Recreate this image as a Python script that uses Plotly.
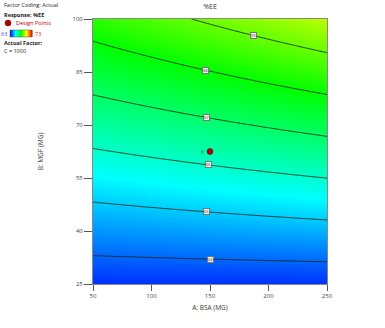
import numpy as np
import plotly.graph_objects as go

# Factor ranges and ticks
bsa_range = [50, 250]
mgf_range = [25, 100]
bsa_ticks = [50, 100, 150, 200, 250]
mgf_ticks = [25, 40, 55, 70, 85, 100]

# Response surface model for %EE in coded-centre form:
# z = c0 + cA*(A-A0) + cB*(B-B0) + cAB*(A-A0)*(B-B0)
centre = [150.0, 62.5]
coef_const = [66.29]
coef_linear = [0.00347, 0.0752]
coef_inter = [9.29e-5]

# Contour levels and the BSA position where each label sits
levels = [64, 65, 66, 67, 68, 69]
label_bsa = [150, 147, 149, 147, 146, 187]

# Design point (centre point, 6 replicates)
design_bsa = [150]
design_mgf = [62.5]
design_reps = ["6"]

z_lo, z_hi = 63, 73
cscale = [[0, "rgb(0,0,255)"], [0.25, "rgb(0,255,255)"], [0.5, "rgb(0,255,0)"],
          [0.75, "rgb(255,255,0)"], [1, "rgb(255,0,0)"]]


def model(a, b):
    da, db = a - centre[0], b - centre[1]
    return coef_const[0] + coef_linear[0] * da + coef_linear[1] * db + coef_inter[0] * da * db


A = np.linspace(bsa_range[0], bsa_range[1], 101)
B = np.linspace(mgf_range[0], mgf_range[1], 101)
AA, BB = np.meshgrid(A, B)
Z = model(AA, BB)

fig = go.Figure()
fig.add_trace(go.Heatmap(x=A, y=B, z=Z, zmin=z_lo, zmax=z_hi, colorscale=cscale,
                         zsmooth="best", showscale=False, hoverinfo="skip"))
fig.add_trace(go.Contour(x=A, y=B, z=Z, showscale=False, hoverinfo="skip",
                         contours=dict(coloring="none", start=levels[0], end=levels[-1], size=1),
                         line=dict(color="rgba(20,40,20,0.85)", width=1)))

fig.add_trace(go.Scatter(x=design_bsa, y=design_mgf, mode="markers",
                         marker=dict(color="#b00000", size=6, line=dict(color="#600000", width=0.5)),
                         hoverinfo="skip", showlegend=False))

annotations = []
for lev, a in zip(levels, label_bsa):
    da = a - centre[0]
    # solve model(a, b) = lev for b
    slope = coef_linear[1] + coef_inter[0] * da
    b = centre[1] + (lev - coef_const[0] - coef_linear[0] * da) / slope
    annotations.append(dict(x=a, y=b, text=str(lev), showarrow=False,
                            font=dict(size=4, color="#333"), bgcolor="#f4f4f4",
                            bordercolor="#777", borderwidth=1, borderpad=0))

for a, b, t in zip(design_bsa, design_mgf, design_reps):
    annotations.append(dict(x=a, y=b, text=t, showarrow=False, xshift=-8,
                            font=dict(size=5, color="#1a6a5a")))

font = "Open Sans, Noto Sans, sans-serif"
# Left-hand legend block (paper coords: x measured relative to plot area)
W, H, L, T = 234.0, 265.0, 93.0, 19.0


def px(x):
    return (x - L) / W


def py(y):
    return 1 - (y - T) / H


legend_text = [
    (2, 5, "Factor Coding: Actual", "#222", False),
    (2, 15, "Response: %EE", "#222", True),
    (14, 23, "Design Points", "#c00000", False),
    (2, 43, "Actual Factor:", "#222", True),
    (2, 51, "C = 1000", "#222", False),
]
for x, y, t, c, bold in legend_text:
    annotations.append(dict(x=px(x), y=py(y), xref="paper", yref="paper", text=f"<b>{t}</b>" if bold else t,
                            showarrow=False, xanchor="left", yanchor="middle",
                            font=dict(size=5.5, color=c, family=font)))
annotations.append(dict(x=px(9), y=py(33.5), xref="paper", yref="paper", text=str(z_lo), showarrow=False,
                        xanchor="right", yanchor="middle", font=dict(size=5.5, color="#3040ff", family=font)))
annotations.append(dict(x=px(33), y=py(33.5), xref="paper", yref="paper", text=str(z_hi), showarrow=False,
                        xanchor="left", yanchor="middle", font=dict(size=5.5, color="#e02020", family=font)))

shapes = []
# design-point marker in legend
shapes.append(dict(type="circle", xref="paper", yref="paper", x0=px(5), x1=px(11), y0=py(26), y1=py(20),
                   fillcolor="#b00000", line=dict(color="#600000", width=0.5)))
# gradient swatch
n = 22
x0, x1 = 10, 32
for i in range(n):
    frac = (i + 0.5) / n
    col = None
    for (p0, c0), (p1, c1) in zip(cscale[:-1], cscale[1:]):
        if p0 <= frac <= p1:
            t = (frac - p0) / (p1 - p0)
            v0 = [int(s) for s in c0[4:-1].split(",")]
            v1 = [int(s) for s in c1[4:-1].split(",")]
            col = "rgb(%d,%d,%d)" % tuple(round(u + (w - u) * t) for u, w in zip(v0, v1))
            break
    xa = x0 + (x1 - x0) * i / n
    xb = x0 + (x1 - x0) * (i + 1) / n
    shapes.append(dict(type="rect", xref="paper", yref="paper", x0=px(xa), x1=px(xb) + 0.002,
                       y0=py(37), y1=py(30), fillcolor=col, line=dict(width=0)))
shapes.append(dict(type="rect", xref="paper", yref="paper", x0=px(x0), x1=px(x1), y0=py(37), y1=py(30),
                   line=dict(color="#555", width=0.5)))

fig.update_layout(
    width=385, height=328,
    margin=dict(l=93, r=58, t=19, b=44),
    paper_bgcolor="white", plot_bgcolor="white",
    font=dict(family=font, size=6, color="#444"),
    title=dict(text="%EE", x=(210 / 385), xanchor="center", y=1 - 7 / 328, yanchor="middle",
               font=dict(size=7, color="#333", family=font)),
    showlegend=False,
    annotations=annotations,
    shapes=shapes,
    xaxis=dict(range=bsa_range, tickvals=bsa_ticks, ticks="outside", ticklen=6, tickcolor="#555",
               showline=True, linecolor="#888", linewidth=1, mirror=True, showgrid=False, zeroline=False,
               title=dict(text="A: BSA (MG)", font=dict(size=6.5, color="#333"), standoff=6),
               tickfont=dict(size=6, color="#444")),
    yaxis=dict(range=mgf_range, tickvals=mgf_ticks, ticks="outside", ticklen=8, tickcolor="#555",
               showline=True, linecolor="#888", linewidth=1, mirror=True, showgrid=False, zeroline=False,
               title=dict(text="B: MGF (MG)", font=dict(size=6.5, color="#333"), standoff=28),
               tickfont=dict(size=6, color="#444")),
)

fig.write_html("out.html")
